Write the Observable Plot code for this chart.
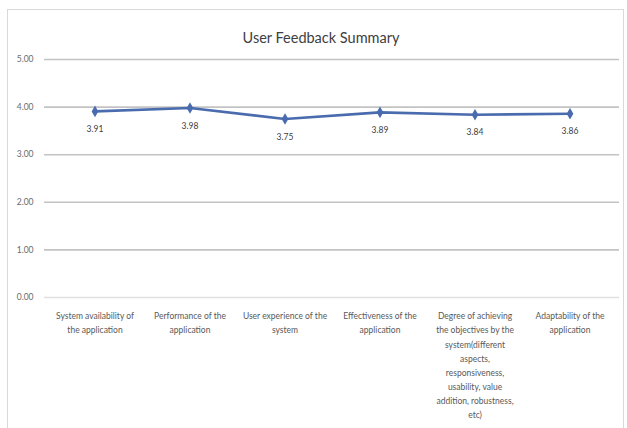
<!DOCTYPE html>
<html>
<head>
<meta charset="utf-8">
<script src="https://cdn.jsdelivr.net/npm/d3@7"></script>
<script src="https://cdn.jsdelivr.net/npm/@observablehq/plot@0.6"></script>
<style>
  html, body { margin: 0; padding: 0; background: #fff; }
  #wrap { position: relative; width: 627px; height: 428px; overflow: hidden; }
  #frame { position: absolute; left: 7px; top: 9px; width: 617px; height: 430px; border: 1px solid #d9d9d9; box-sizing: border-box; pointer-events: none; }
</style>
</head>
<body>
<div id="wrap"><div id="frame"></div></div>
<script>
const title = "User Feedback Summary";
const categories = [
  "System availability of the application",
  "Performance of the application",
  "User experience of the system",
  "Effectiveness of the application",
  "Degree of achieving the objectives by the system(different aspects, responsiveness, usability, value addition, robustness, etc)",
  "Adaptability of the application"
];
const tickLabels = [
  "System availability of\nthe application",
  "Performance of the\napplication",
  "User experience of the\nsystem",
  "Effectiveness of the\napplication",
  "Degree of achieving\nthe objectives by the\nsystem(different\naspects,\nresponsiveness,\nusability, value\naddition, robustness,\netc)",
  "Adaptability of the\napplication"
];
const values = [3.91, 3.98, 3.75, 3.89, 3.84, 3.86];
const yTicks = [0, 1, 2, 3, 4, 5];

const data = categories.map((c, i) => ({category: c, value: values[i]}));
const labelOf = new Map(categories.map((c, i) => [c, tickLabels[i]]));

const font = "Lato, 'Open Sans', sans-serif";
const chart = Plot.plot({
  width: 627,
  height: 428,
  marginLeft: 44,
  marginRight: 8,
  marginTop: 59,
  marginBottom: 131,
  style: {fontFamily: font, background: "transparent", color: "#595959"},
  x: {type: "band", domain: categories, padding: 0, label: null},
  y: {domain: [0, 5], label: null},
  marks: [
    Plot.ruleY(yTicks.filter(d => d > 0), {stroke: "#c3c3c3", strokeWidth: 1.6}),
    Plot.ruleY([0], {stroke: "#e0e0e0", strokeWidth: 1.6}),
    Plot.axisY({ticks: yTicks, tickFormat: d => d.toFixed(2), tickSize: 0, tickPadding: 11, fontSize: 8.5, fill: "#6a6a6a", label: null}),
    Plot.axisX({tickSize: 0, tickPadding: 12, fontSize: 8.5, lineHeight: 1.65, fill: "#595959", tickFormat: d => labelOf.get(d), label: null}),
    Plot.line(data, {x: "category", y: "value", stroke: "#4a6cae", strokeWidth: 2.6}),
    Plot.dot(data, {x: "category", y: "value", symbol: "diamond", r: 2.6, fill: "#4a6cae", stroke: "#4a6cae"}),
    Plot.text(data, {x: "category", y: "value", text: d => d.value.toFixed(2), dy: 18, fontSize: 8.5, fill: "#404040"}),
    Plot.text([title], {frameAnchor: "top", dx: -11, dy: -27, text: d => d, fontSize: 14.5, fill: "#404040"})
  ]
});
document.getElementById("wrap").prepend(chart);
</script>
</body>
</html>
